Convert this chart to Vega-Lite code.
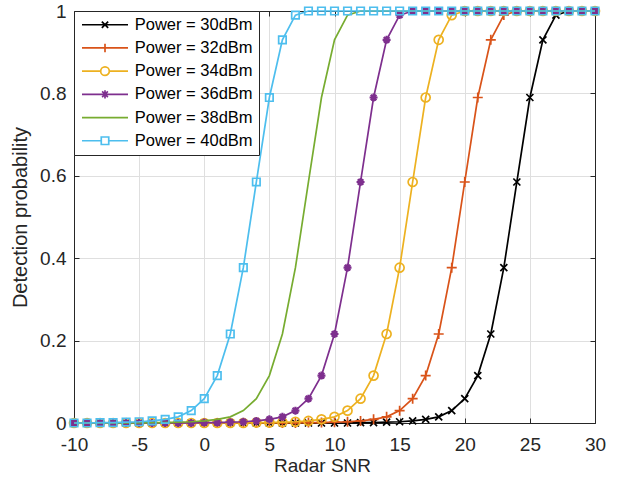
{
"$schema":"https://vega.github.io/schema/vega-lite/v6.json",
"width":521,"height":412,
"autosize":"none",
"padding":{"left":74,"top":11,"right":29,"bottom":55},
"background":"white",
"config":{"font":"Liberation Sans","view":{"stroke":null},
 "legend":{"labelFont":"Liberation Sans"}},
"datasets":{"d":[
{"s":30,"x":-10,"p":0},{"s":30,"x":-9,"p":0},{"s":30,"x":-8,"p":0},{"s":30,"x":-7,"p":0},{"s":30,"x":-6,"p":0},{"s":30,"x":-5,"p":0},{"s":30,"x":-4,"p":0},{"s":30,"x":-3,"p":0},{"s":30,"x":-2,"p":0},{"s":30,"x":-1,"p":0},{"s":30,"x":0,"p":0},{"s":30,"x":1,"p":0},{"s":30,"x":2,"p":0},{"s":30,"x":3,"p":0},{"s":30,"x":4,"p":0},{"s":30,"x":5,"p":0},{"s":30,"x":6,"p":0},{"s":30,"x":7,"p":0},{"s":30,"x":8,"p":0},{"s":30,"x":9,"p":0},{"s":30,"x":10,"p":0},{"s":30,"x":11,"p":0},{"s":30,"x":12,"p":0.001},{"s":30,"x":13,"p":0.001},{"s":30,"x":14,"p":0.002},{"s":30,"x":15,"p":0.003},{"s":30,"x":16,"p":0.005},{"s":30,"x":17,"p":0.009},{"s":30,"x":18,"p":0.015},{"s":30,"x":19,"p":0.03},{"s":30,"x":20,"p":0.059},{"s":30,"x":21,"p":0.115},{"s":30,"x":22,"p":0.216},{"s":30,"x":23,"p":0.377},{"s":30,"x":24,"p":0.585},{"s":30,"x":25,"p":0.79},{"s":30,"x":26,"p":0.93},{"s":30,"x":27,"p":0.99},{"s":30,"x":28,"p":1},{"s":30,"x":29,"p":1},{"s":30,"x":30,"p":1},
{"s":32,"x":-10,"p":0},{"s":32,"x":-9,"p":0},{"s":32,"x":-8,"p":0},{"s":32,"x":-7,"p":0},{"s":32,"x":-6,"p":0},{"s":32,"x":-5,"p":0},{"s":32,"x":-4,"p":0},{"s":32,"x":-3,"p":0},{"s":32,"x":-2,"p":0},{"s":32,"x":-1,"p":0},{"s":32,"x":0,"p":0},{"s":32,"x":1,"p":0},{"s":32,"x":2,"p":0},{"s":32,"x":3,"p":0},{"s":32,"x":4,"p":0},{"s":32,"x":5,"p":0},{"s":32,"x":6,"p":0},{"s":32,"x":7,"p":0},{"s":32,"x":8,"p":0.001},{"s":32,"x":9,"p":0.001},{"s":32,"x":10,"p":0.002},{"s":32,"x":11,"p":0.003},{"s":32,"x":12,"p":0.005},{"s":32,"x":13,"p":0.009},{"s":32,"x":14,"p":0.015},{"s":32,"x":15,"p":0.03},{"s":32,"x":16,"p":0.059},{"s":32,"x":17,"p":0.115},{"s":32,"x":18,"p":0.216},{"s":32,"x":19,"p":0.377},{"s":32,"x":20,"p":0.585},{"s":32,"x":21,"p":0.79},{"s":32,"x":22,"p":0.93},{"s":32,"x":23,"p":0.99},{"s":32,"x":24,"p":1},{"s":32,"x":25,"p":1},{"s":32,"x":26,"p":1},{"s":32,"x":27,"p":1},{"s":32,"x":28,"p":1},{"s":32,"x":29,"p":1},{"s":32,"x":30,"p":1},
{"s":34,"x":-10,"p":0},{"s":34,"x":-9,"p":0},{"s":34,"x":-8,"p":0},{"s":34,"x":-7,"p":0},{"s":34,"x":-6,"p":0},{"s":34,"x":-5,"p":0},{"s":34,"x":-4,"p":0},{"s":34,"x":-3,"p":0},{"s":34,"x":-2,"p":0},{"s":34,"x":-1,"p":0},{"s":34,"x":0,"p":0},{"s":34,"x":1,"p":0},{"s":34,"x":2,"p":0},{"s":34,"x":3,"p":0},{"s":34,"x":4,"p":0.001},{"s":34,"x":5,"p":0.001},{"s":34,"x":6,"p":0.002},{"s":34,"x":7,"p":0.003},{"s":34,"x":8,"p":0.005},{"s":34,"x":9,"p":0.009},{"s":34,"x":10,"p":0.015},{"s":34,"x":11,"p":0.03},{"s":34,"x":12,"p":0.059},{"s":34,"x":13,"p":0.115},{"s":34,"x":14,"p":0.216},{"s":34,"x":15,"p":0.377},{"s":34,"x":16,"p":0.585},{"s":34,"x":17,"p":0.79},{"s":34,"x":18,"p":0.93},{"s":34,"x":19,"p":0.99},{"s":34,"x":20,"p":1},{"s":34,"x":21,"p":1},{"s":34,"x":22,"p":1},{"s":34,"x":23,"p":1},{"s":34,"x":24,"p":1},{"s":34,"x":25,"p":1},{"s":34,"x":26,"p":1},{"s":34,"x":27,"p":1},{"s":34,"x":28,"p":1},{"s":34,"x":29,"p":1},{"s":34,"x":30,"p":1},
{"s":36,"x":-10,"p":0},{"s":36,"x":-9,"p":0},{"s":36,"x":-8,"p":0},{"s":36,"x":-7,"p":0},{"s":36,"x":-6,"p":0},{"s":36,"x":-5,"p":0},{"s":36,"x":-4,"p":0},{"s":36,"x":-3,"p":0},{"s":36,"x":-2,"p":0},{"s":36,"x":-1,"p":0},{"s":36,"x":0,"p":0.001},{"s":36,"x":1,"p":0.001},{"s":36,"x":2,"p":0.002},{"s":36,"x":3,"p":0.003},{"s":36,"x":4,"p":0.005},{"s":36,"x":5,"p":0.009},{"s":36,"x":6,"p":0.015},{"s":36,"x":7,"p":0.03},{"s":36,"x":8,"p":0.059},{"s":36,"x":9,"p":0.115},{"s":36,"x":10,"p":0.216},{"s":36,"x":11,"p":0.377},{"s":36,"x":12,"p":0.585},{"s":36,"x":13,"p":0.79},{"s":36,"x":14,"p":0.93},{"s":36,"x":15,"p":0.99},{"s":36,"x":16,"p":1},{"s":36,"x":17,"p":1},{"s":36,"x":18,"p":1},{"s":36,"x":19,"p":1},{"s":36,"x":20,"p":1},{"s":36,"x":21,"p":1},{"s":36,"x":22,"p":1},{"s":36,"x":23,"p":1},{"s":36,"x":24,"p":1},{"s":36,"x":25,"p":1},{"s":36,"x":26,"p":1},{"s":36,"x":27,"p":1},{"s":36,"x":28,"p":1},{"s":36,"x":29,"p":1},{"s":36,"x":30,"p":1},
{"s":38,"x":-10,"p":0},{"s":38,"x":-9,"p":0},{"s":38,"x":-8,"p":0},{"s":38,"x":-7,"p":0},{"s":38,"x":-6,"p":0},{"s":38,"x":-5,"p":0},{"s":38,"x":-4,"p":0.001},{"s":38,"x":-3,"p":0.001},{"s":38,"x":-2,"p":0.002},{"s":38,"x":-1,"p":0.003},{"s":38,"x":0,"p":0.005},{"s":38,"x":1,"p":0.009},{"s":38,"x":2,"p":0.015},{"s":38,"x":3,"p":0.03},{"s":38,"x":4,"p":0.059},{"s":38,"x":5,"p":0.115},{"s":38,"x":6,"p":0.216},{"s":38,"x":7,"p":0.377},{"s":38,"x":8,"p":0.585},{"s":38,"x":9,"p":0.79},{"s":38,"x":10,"p":0.93},{"s":38,"x":11,"p":0.99},{"s":38,"x":12,"p":1},{"s":38,"x":13,"p":1},{"s":38,"x":14,"p":1},{"s":38,"x":15,"p":1},{"s":38,"x":16,"p":1},{"s":38,"x":17,"p":1},{"s":38,"x":18,"p":1},{"s":38,"x":19,"p":1},{"s":38,"x":20,"p":1},{"s":38,"x":21,"p":1},{"s":38,"x":22,"p":1},{"s":38,"x":23,"p":1},{"s":38,"x":24,"p":1},{"s":38,"x":25,"p":1},{"s":38,"x":26,"p":1},{"s":38,"x":27,"p":1},{"s":38,"x":28,"p":1},{"s":38,"x":29,"p":1},{"s":38,"x":30,"p":1},
{"s":40,"x":-10,"p":0},{"s":40,"x":-9,"p":0},{"s":40,"x":-8,"p":0.001},{"s":40,"x":-7,"p":0.001},{"s":40,"x":-6,"p":0.002},{"s":40,"x":-5,"p":0.003},{"s":40,"x":-4,"p":0.005},{"s":40,"x":-3,"p":0.009},{"s":40,"x":-2,"p":0.015},{"s":40,"x":-1,"p":0.03},{"s":40,"x":0,"p":0.059},{"s":40,"x":1,"p":0.115},{"s":40,"x":2,"p":0.216},{"s":40,"x":3,"p":0.377},{"s":40,"x":4,"p":0.585},{"s":40,"x":5,"p":0.79},{"s":40,"x":6,"p":0.93},{"s":40,"x":7,"p":0.99},{"s":40,"x":8,"p":1},{"s":40,"x":9,"p":1},{"s":40,"x":10,"p":1},{"s":40,"x":11,"p":1},{"s":40,"x":12,"p":1},{"s":40,"x":13,"p":1},{"s":40,"x":14,"p":1},{"s":40,"x":15,"p":1},{"s":40,"x":16,"p":1},{"s":40,"x":17,"p":1},{"s":40,"x":18,"p":1},{"s":40,"x":19,"p":1},{"s":40,"x":20,"p":1},{"s":40,"x":21,"p":1},{"s":40,"x":22,"p":1},{"s":40,"x":23,"p":1},{"s":40,"x":24,"p":1},{"s":40,"x":25,"p":1},{"s":40,"x":26,"p":1},{"s":40,"x":27,"p":1},{"s":40,"x":28,"p":1},{"s":40,"x":29,"p":1},{"s":40,"x":30,"p":1}
]},
"data":{"name":"d"},
"resolve":{"axis":{"x":"independent","y":"independent"}},
"layer":[
{"transform":[{"filter":"datum.s == 30"}],
 "mark":{"type":"line","stroke":"#000000","strokeWidth":1.7},
 "encoding":{
  "x":{"field":"x","type":"quantitative","scale":{"domain":[-10,30],"nice":false,"zero":false,"padding":0},
   "axis":{"orient":"bottom","values":[-10,-5,0,5,10,15,20,25,30],"labelExpr":"'' + datum.value","labelFlush":false,"title":"Radar SNR","grid":true,"gridColor":"#dfdfdf","gridWidth":1,
    "domainColor":"#262626","tickColor":"#262626","tickSize":-5,"labelFontSize":19,"labelColor":"#262626","labelPadding":17,
    "titleFontSize":19,"titleFontWeight":"normal","titleColor":"#262626","titlePadding":2,"titleX":248}},
  "y":{"field":"p","type":"quantitative","scale":{"domain":[0,1],"nice":false,"zero":false,"padding":0},
   "axis":{"orient":"left","values":[0,0.2,0.4,0.6,0.8,1],"format":"~g","labelFlush":false,"title":"Detection probability","grid":true,"gridColor":"#dfdfdf","gridWidth":1,
    "domainColor":"#262626","tickColor":"#262626","tickSize":-5,"labelFontSize":19,"labelColor":"#262626","labelPadding":13,
    "titleFontSize":20,"titleFontWeight":"normal","titleColor":"#262626","titlePadding":9}}}},
{"transform":[{"filter":"datum.s == 30"}],
 "mark":{"type":"point","shape":"M-1,-1L1,1M-1,1L1,-1","size":49,"filled":false,"stroke":"#000000","strokeWidth":1.7,"opacity":1},
 "encoding":{"x":{"field":"x","type":"quantitative","axis":null},"y":{"field":"p","type":"quantitative","axis":null}}},
{"transform":[{"filter":"datum.s == 32"}],
 "mark":{"type":"line","stroke":"#D95319","strokeWidth":1.7},
 "encoding":{"x":{"field":"x","type":"quantitative","axis":null},"y":{"field":"p","type":"quantitative","axis":null}}},
{"transform":[{"filter":"datum.s == 32"}],
 "mark":{"type":"point","shape":"M-1,0L1,0M0,-1L0,1","size":100,"filled":false,"stroke":"#D95319","strokeWidth":1.7,"opacity":1},
 "encoding":{"x":{"field":"x","type":"quantitative","axis":null},"y":{"field":"p","type":"quantitative","axis":null}}},
{"transform":[{"filter":"datum.s == 34"}],
 "mark":{"type":"line","stroke":"#EDB120","strokeWidth":1.7},
 "encoding":{"x":{"field":"x","type":"quantitative","axis":null},"y":{"field":"p","type":"quantitative","axis":null}}},
{"transform":[{"filter":"datum.s == 34"}],
 "mark":{"type":"point","shape":"circle","size":81,"filled":false,"stroke":"#EDB120","strokeWidth":1.7,"opacity":1},
 "encoding":{"x":{"field":"x","type":"quantitative","axis":null},"y":{"field":"p","type":"quantitative","axis":null}}},
{"transform":[{"filter":"datum.s == 36"}],
 "mark":{"type":"line","stroke":"#7E2F8E","strokeWidth":1.7},
 "encoding":{"x":{"field":"x","type":"quantitative","axis":null},"y":{"field":"p","type":"quantitative","axis":null}}},
{"transform":[{"filter":"datum.s == 36"}],
 "mark":{"type":"point","shape":"M-1,0L1,0M0,-1L0,1M-0.7,-0.7L0.7,0.7M-0.7,0.7L0.7,-0.7","size":64,"filled":false,"stroke":"#7E2F8E","strokeWidth":2.2,"opacity":1},
 "encoding":{"x":{"field":"x","type":"quantitative","axis":null},"y":{"field":"p","type":"quantitative","axis":null}}},
{"transform":[{"filter":"datum.s == 38"}],
 "mark":{"type":"line","stroke":"#77AC30","strokeWidth":1.7},
 "encoding":{"x":{"field":"x","type":"quantitative","axis":null},"y":{"field":"p","type":"quantitative","axis":null}}},
{"transform":[{"filter":"datum.s == 40"}],
 "mark":{"type":"line","stroke":"#4DBEEE","strokeWidth":1.7},
 "encoding":{"x":{"field":"x","type":"quantitative","axis":null},"y":{"field":"p","type":"quantitative","axis":null}}},
{"transform":[{"filter":"datum.s == 40"}],
 "mark":{"type":"point","shape":"square","size":56,"filled":false,"stroke":"#4DBEEE","strokeWidth":1.7,"opacity":1},
 "encoding":{"x":{"field":"x","type":"quantitative","axis":null},"y":{"field":"p","type":"quantitative","axis":null}}},
{"mark":{"type":"point","filled":false,"opacity":0,"strokeWidth":1.7},
 "encoding":{
  "x":{"field":"x","type":"quantitative","axis":{"orient":"top","values":[-10,-5,0,5,10,15,20,25,30],"labels":false,"title":null,"grid":false,"domainColor":"#262626","tickColor":"#262626","tickSize":-5}},
  "y":{"field":"p","type":"quantitative","axis":{"orient":"right","values":[0,0.2,0.4,0.6,0.8,1],"labels":false,"title":null,"grid":false,"domainColor":"#262626","tickColor":"#262626","tickSize":-5}},
  "shape":{"field":"s","type":"nominal","scale":{"domain":[30,32,34,36,38,40],"range":[
    "M-1,0L7,0M2.45,-0.55L3.55,0.55M2.45,0.55L3.55,-0.55",
    "M-1,0L7,0M3,-0.75L3,0.75",
    "M-1,0L2.25,0M3.75,0L7,0M3.75,0A0.75,0.75,0,1,1,2.25,0A0.75,0.75,0,1,1,3.75,0",
    "M-1,0L7,0M3,-0.7L3,0.7M2.5,-0.5L3.5,0.5M2.5,0.5L3.5,-0.5",
    "M-1,0L7,0",
    "M-1,0L2.35,0M3.65,0L7,0M2.35,-0.65L3.65,-0.65L3.65,0.65L2.35,0.65Z"]},
   "legend":{"title":null,"orient":"top-left","offset":0,"padding":5.5,"fillColor":"white","strokeColor":"#262626","symbolSize":132.25,"symbolStrokeWidth":1.7,"symbolOpacity":1,"labelFontSize":16.5,"labelColor":"#000000","labelOffset":38.7,"rowPadding":6.2,"labelExpr":"'Power = ' + datum.label + 'dBm\u00a0'"}},
  "stroke":{"field":"s","type":"nominal","scale":{"domain":[30,32,34,36,38,40],"range":["#000000","#D95319","#EDB120","#7E2F8E","#77AC30","#4DBEEE"]},
   "legend":{"title":null,"orient":"top-left","offset":0,"padding":5.5,"fillColor":"white","strokeColor":"#262626","symbolSize":132.25,"symbolStrokeWidth":1.7,"symbolOpacity":1,"labelFontSize":16.5,"labelColor":"#000000","labelOffset":38.7,"rowPadding":6.2,"labelExpr":"'Power = ' + datum.label + 'dBm\u00a0'"}}}}
]}
